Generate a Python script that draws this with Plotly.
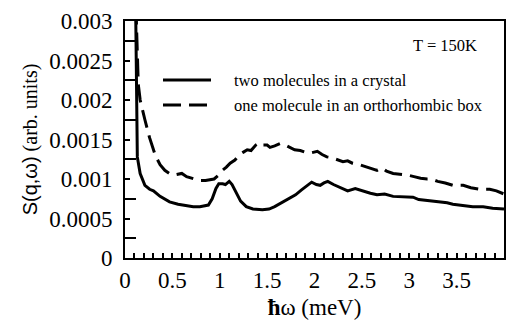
import plotly.graph_objects as go

# Energy transfer (meV) and dynamic structure factor for the two systems
omega_crystal = [0.10, 0.115, 0.125, 0.13, 0.16, 0.21, 0.26, 0.30, 0.37, 0.47, 0.56, 0.65,
                 0.72, 0.79, 0.85, 0.88, 0.92, 0.96, 0.99, 1.03, 1.06, 1.10, 1.13, 1.17,
                 1.22, 1.28, 1.35, 1.45, 1.52, 1.58, 1.65, 1.72, 1.80, 1.86, 1.92, 1.97,
                 2.02, 2.06, 2.10, 2.14, 2.20, 2.27, 2.35, 2.43, 2.50, 2.59, 2.66, 2.74,
                 2.83, 2.95, 3.04, 3.10, 3.18, 3.30, 3.40, 3.46, 3.55, 3.67, 3.78, 3.88, 4.00]
s_crystal = [0.0045, 0.0030, 0.0016, 0.00128, 0.00107, 0.00092, 0.00087, 0.00085, 0.00078,
             0.00071, 0.00068, 0.00066, 0.00065, 0.00065, 0.00066, 0.00067, 0.00075, 0.00088,
             0.00094, 0.00094, 0.00093, 0.00097, 0.00093, 0.00084, 0.00072, 0.00065, 0.00062,
             0.00061, 0.00062, 0.00065, 0.00070, 0.00074, 0.00080, 0.00086, 0.00092, 0.00096,
             0.00093, 0.00092, 0.00095, 0.00097, 0.00093, 0.00089, 0.00085, 0.00088, 0.00085,
             0.00082, 0.00080, 0.00081, 0.00078, 0.00077, 0.00077, 0.00074, 0.00073, 0.00072,
             0.00070, 0.00068, 0.00067, 0.00065, 0.00065, 0.00063, 0.00062]

omega_box = [0.10, 0.12, 0.14, 0.16, 0.21, 0.26, 0.32, 0.37, 0.42, 0.47, 0.52, 0.56, 0.60,
             0.65, 0.72, 0.79, 0.85, 0.90, 0.94, 0.98, 1.02, 1.07, 1.11, 1.16, 1.21, 1.25,
             1.29, 1.33, 1.38, 1.42, 1.46, 1.50, 1.53, 1.58, 1.64, 1.69, 1.74, 1.79, 1.85,
             1.90, 1.96, 2.03, 2.08, 2.13, 2.18, 2.24, 2.30, 2.35, 2.40, 2.48, 2.55, 2.62,
             2.66, 2.71, 2.76, 2.83, 2.90, 2.98, 3.05, 3.12, 3.19, 3.23, 3.30, 3.38, 3.46,
             3.52, 3.57, 3.65, 3.75, 3.85, 3.92, 4.00]
s_box = [0.0045, 0.0030, 0.0022, 0.0020, 0.00175, 0.00152, 0.00130, 0.00118, 0.00111, 0.00107,
         0.00105, 0.00106, 0.00107, 0.00103, 0.00100, 0.00098, 0.00098, 0.00099, 0.00100,
         0.00104, 0.00110, 0.00115, 0.00120, 0.00124, 0.00131, 0.00134, 0.00137, 0.00136,
         0.00143, 0.00146, 0.00143, 0.00143, 0.00140, 0.00142, 0.00145, 0.00143, 0.00140,
         0.00137, 0.00136, 0.00134, 0.00133, 0.00135, 0.00131, 0.00128, 0.00127, 0.00124,
         0.00122, 0.00123, 0.00120, 0.00118, 0.00115, 0.00112, 0.00111, 0.00114, 0.00110,
         0.00107, 0.00106, 0.00105, 0.00103, 0.00101, 0.00100, 0.00100, 0.00097, 0.00095,
         0.00092, 0.00092, 0.00092, 0.00089, 0.00087, 0.00087, 0.00085, 0.00081]

series_names = ["two molecules in a crystal", "one molecule in an orthorhombic box"]
temperature_label = "T = 150K"

SERIF = "Liberation Serif"
DASH = "18px,8px"

fig = go.Figure()
fig.add_trace(go.Scatter(x=omega_crystal, y=s_crystal, mode="lines", name=series_names[0],
                         line=dict(color="black", width=3), showlegend=False))
fig.add_trace(go.Scatter(x=omega_box, y=s_box, mode="lines", name=series_names[1],
                         line=dict(color="black", width=3, dash=DASH), showlegend=False))

# Hand-placed key inside the frame
key_rows = [(80, "solid"), (105, DASH)]
for (ypix, dash), label in zip(key_rows, series_names):
    yv = 1 - (ypix - 21) / 237.0
    fig.add_shape(type="line", xref="paper", yref="paper",
                  x0=(163 - 125) / 379.0, x1=(211 - 125) / 379.0, y0=yv, y1=yv,
                  line=dict(color="black", width=3, dash=dash))
    fig.add_annotation(xref="paper", yref="paper", x=(232 - 125) / 379.0, y=yv,
                       xanchor="left", yanchor="middle", showarrow=False, text=label,
                       font=dict(family=SERIF, size=16.5, color="black"))

fig.add_annotation(xref="paper", yref="paper", x=(479 - 125) / 379.0, y=1 - (45 - 21) / 237.0,
                   xanchor="right", yanchor="middle", showarrow=False, text=temperature_label,
                   font=dict(family=SERIF, size=16.5, color="black"))

fig.update_layout(
    width=510, height=320,
    margin=dict(l=125, r=6, t=21, b=62, autoexpand=False),
    paper_bgcolor="white", plot_bgcolor="white",
    font=dict(family=SERIF, size=23, color="black"),
    xaxis=dict(
        range=[0, 4], dtick=0.5, tick0=0, automargin=False,
        ticks="inside", ticklen=5, tickwidth=1.5, tickcolor="black",
        minor=dict(dtick=0.1, ticks="inside", ticklen=5, tickwidth=1.5, tickcolor="black"),
        showline=True, linewidth=2, linecolor="black", mirror=True,
        showgrid=False, zeroline=False, tickfont=dict(family=SERIF, size=23, color="black"),
        title=dict(text="<b>ħ</b>ω (meV)", font=dict(family=SERIF, size=23, color="black"),
                   standoff=12),
    ),
    # top frame ticks
    xaxis2=dict(
        overlaying="x", side="top", range=[0, 4], dtick=0.1, tick0=0, automargin=False,
        ticks="inside", ticklen=5, tickwidth=1.5, tickcolor="black",
        showticklabels=False, showgrid=False, zeroline=False, showline=False,
    ),
    yaxis=dict(
        range=[0, 0.003], dtick=0.0005, tick0=0, automargin=False,
        ticks="inside", ticklen=5, tickwidth=1.5, tickcolor="black",
        minor=dict(dtick=0.00025, ticks="inside", ticklen=11, tickwidth=1.5, tickcolor="black"),
        showline=True, linewidth=2, linecolor="black", mirror=True,
        showgrid=False, zeroline=False, ticklabelstandoff=6,
        tickfont=dict(family=SERIF, size=23, color="black"),
        title=dict(text='<span style="font-family:Liberation Sans">S(q,ω)</span> (arb. units)',
                   font=dict(family=SERIF, size=20, color="black"), standoff=6),
    ),
    # right frame ticks
    yaxis2=dict(
        overlaying="y", side="right", range=[0, 0.003], dtick=0.00025, tick0=0, automargin=False,
        ticks="inside", ticklen=8, tickwidth=1.5, tickcolor="black",
        showticklabels=False, showgrid=False, zeroline=False, showline=False,
    ),
)

fig.write_html("out.html")
